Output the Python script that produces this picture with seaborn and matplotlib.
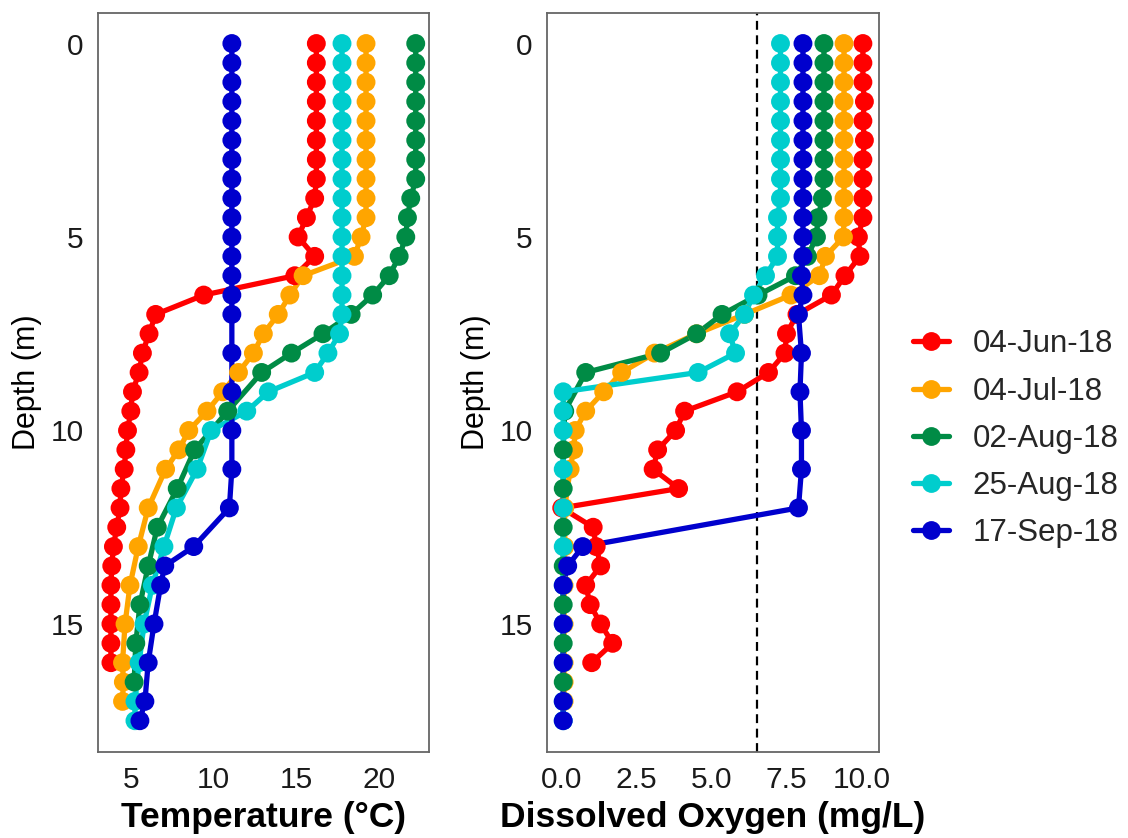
from matplotlib import pyplot as plt
from matplotlib.lines import Line2D
import pandas as pd
import seaborn as sns

# sampling dates (legend order)
dates = ["04-Jun-18", "04-Jul-18", "02-Aug-18", "25-Aug-18", "17-Sep-18"]
colours = ["#FF0000", "#FFA500", "#008B45", "#00CDCD", "#0000CD"]

# 04-Jun-18
depth_jun = [0, 0.5, 1, 1.5, 2, 2.5, 3, 3.5, 4, 4.5, 5, 5.5, 6, 6.5, 7, 7.5,
             8, 8.5, 9, 9.5, 10, 10.5, 11, 11.5, 12, 12.5, 13, 13.5, 14, 14.5,
             15, 15.5, 16]
temp_jun = [16.2, 16.2, 16.2, 16.2, 16.2, 16.2, 16.2, 16.2, 16.1, 15.6, 15.1,
            16.1, 14.9, 9.4, 6.5, 6.1, 5.7, 5.5, 5.1, 5.0, 4.8, 4.7, 4.6, 4.4,
            4.35, 4.15, 3.95, 3.85, 3.8, 3.8, 3.8, 3.8, 3.8]
do_jun = [10.05, 10.05, 10.05, 10.1, 10.05, 10.1, 10.05, 10.05, 10.05, 10.05,
          9.9, 9.95, 9.45, 9.0, 7.85, 7.5, 7.45, 6.9, 5.85, 4.1, 3.8, 3.2, 3.05,
          3.9, 0.0, 1.05, 1.15, 1.3, 0.8, 0.95, 1.3, 1.7, 1.0]

# 04-Jul-18
depth_jul = [0, 0.5, 1, 1.5, 2, 2.5, 3, 3.5, 4, 4.5, 5, 5.5, 6, 6.5, 7, 7.5,
             8, 8.5, 9, 9.5, 10, 10.5, 11, 12, 13, 14, 15, 16, 16.5, 17]
temp_jul = [19.2, 19.2, 19.2, 19.2, 19.2, 19.2, 19.2, 19.2, 19.2, 19.2, 18.9,
            18.5, 15.4, 14.6, 13.9, 13.0, 12.4, 11.5, 10.55, 9.6, 8.5, 7.9,
            7.1, 6.05, 5.45, 4.95, 4.65, 4.5, 4.55, 4.5]
do_jul = [9.42, 9.42, 9.42, 9.42, 9.42, 9.42, 9.42, 9.42, 9.42, 9.42, 9.4,
          8.8, 8.6, 7.65, 6.1, 4.5, 3.1, 2.0, 1.4, 0.8, 0.45, 0.4, 0.28, 0.1,
          0.1, 0.08, 0.08, 0.08, 0.08, 0.08]

# 02-Aug-18
depth_aug = [0, 0.5, 1, 1.5, 2, 2.5, 3, 3.5, 4, 4.5, 5, 5.5, 6, 6.5, 7, 7.5,
             8, 8.5, 9.5, 10.5, 11.5, 12.5, 13.5, 14.5, 15.5, 16.5]
temp_aug = [22.2, 22.2, 22.2, 22.2, 22.2, 22.2, 22.2, 22.2, 21.9, 21.7, 21.6,
            21.2, 20.6, 19.6, 18.3, 16.6, 14.7, 12.9, 10.85, 8.85, 7.8, 6.6,
            6.05, 5.55, 5.3, 5.2]
do_aug = [8.75, 8.75, 8.75, 8.75, 8.75, 8.75, 8.75, 8.75, 8.7, 8.55, 8.5, 8.2,
          7.8, 6.55, 5.35, 4.5, 3.3, 0.8, 0.1, 0.05, 0.05, 0.05, 0.05, 0.05,
          0.05, 0.05]

# 25-Aug-18
depth_aug2 = [0, 0.5, 1, 1.5, 2, 2.5, 3, 3.5, 4, 4.5, 5, 5.5, 6, 6.5, 7, 7.5,
              8, 8.5, 9, 9.5, 10, 11, 12, 13, 14, 15, 16, 17, 17.5]
temp_aug2 = [17.75, 17.75, 17.75, 17.75, 17.75, 17.75, 17.75, 17.75, 17.75,
             17.75, 17.75, 17.75, 17.75, 17.75, 17.75, 17.6, 16.9, 16.1, 13.3,
             12.0, 9.85, 9.0, 7.75, 7.0, 6.3, 5.8, 5.5, 5.25, 5.25]
do_aug2 = [7.3, 7.3, 7.3, 7.3, 7.3, 7.3, 7.3, 7.3, 7.3, 7.2, 7.2, 7.2, 6.8,
           6.4, 6.1, 5.6, 5.8, 4.55, 0.05, 0.05, 0.05, 0.05, 0.05, 0.05, 0.05,
           0.05, 0.05, 0.05, 0.05]

# 17-Sep-18
depth_sep = [0, 0.5, 1, 1.5, 2, 2.5, 3, 3.5, 4, 4.5, 5, 5.5, 6, 6.5, 7, 8, 9,
             10, 11, 12, 13, 13.5, 14, 15, 16, 17, 17.5]
temp_sep = [11.1, 11.1, 11.1, 11.1, 11.1, 11.1, 11.1, 11.1, 11.1, 11.1, 11.1,
            11.1, 11.1, 11.1, 11.1, 11.1, 11.1, 11.1, 11.1, 10.95, 8.8, 7.05,
            6.8, 6.4, 6.05, 5.85, 5.55]
do_sep = [8.05, 8.05, 8.05, 8.05, 8.05, 8.05, 8.05, 8.05, 8.05, 8.05, 8.05,
          8.05, 8.0, 8.05, 7.9, 8.0, 7.95, 8.0, 8.0, 7.9, 0.7, 0.2, 0.05, 0.05,
          0.05, 0.05, 0.05]

do_threshold = 6.5

# dlhy format tabulky pre seaborn
frames = []
for d, dep, t, o in zip(dates,
                        [depth_jun, depth_jul, depth_aug, depth_aug2, depth_sep],
                        [temp_jun, temp_jul, temp_aug, temp_aug2, temp_sep],
                        [do_jun, do_jul, do_aug, do_aug2, do_sep]):
    frames.append(pd.DataFrame({"date": d, "depth": dep, "temp": t, "do": o}))
df = pd.concat(frames, ignore_index=True)

sns.set_style("white")
plt.rcParams["font.family"] = ["Liberation Sans", "DejaVu Sans"]

fig = plt.figure(figsize=(11.28, 8.38), dpi=100)
ax1 = fig.add_axes([0.0866, 0.103, 0.2937, 0.882])
ax2 = fig.add_axes([0.4847, 0.103, 0.2949, 0.882])

palette = dict(zip(dates, colours))
for ax, col in [(ax1, "temp"), (ax2, "do")]:
    # najprv ciary, potom body (ako geom_path + geom_point)
    sns.lineplot(data=df, x=col, y="depth", hue="date", hue_order=dates,
                 palette=palette, orient="y", estimator=None, linewidth=3.8,
                 legend=False, ax=ax)
    sns.scatterplot(data=df, x=col, y="depth", hue="date", hue_order=dates,
                    palette=palette, s=185, linewidth=0, legend=False, ax=ax,
                    zorder=3)
    ax.set_ylim(18.3, -0.8)
    ax.set_yticks([0, 5, 10, 15])
    ax.set_ylabel("Depth (m)", fontsize=22, labelpad=6, color="black")
    ax.tick_params(length=0, labelsize=21.5, pad=10, colors="#1a1a1a")
    for s in ax.spines.values():
        s.set_color("#666666")
        s.set_linewidth(1.3)

ax2.axvline(do_threshold, color="black", linestyle=(0, (4, 2.5)),
            linewidth=1.6, zorder=1)

ax1.set_xlim(3.0, 23.0)
ax1.set_xticks([5, 10, 15, 20])
ax1.set_xlabel("Temperature (°C)", fontsize=25.5, fontweight="bold",
               labelpad=5, color="black")

ax2.set_xlim(-0.5, 10.6)
ax2.set_xticks([0, 2.5, 5, 7.5, 10])
ax2.set_xticklabels(["0.0", "2.5", "5.0", "7.5", "10.0"])
ax2.set_xlabel("Dissolved Oxygen (mg/L)", fontsize=25.5, fontweight="bold",
               labelpad=5, color="black")

handles = [Line2D([], [], color=c, linewidth=3.8, marker="o", markersize=12.5)
           for c in colours]
fig.legend(handles, dates, loc="center left", bbox_to_anchor=(0.809, 0.4765),
           frameon=False, fontsize=22.5, handlelength=1.18, handletextpad=0.74,
           labelspacing=0.55, borderpad=0, borderaxespad=0)

fig.savefig("out.png", dpi=100)
